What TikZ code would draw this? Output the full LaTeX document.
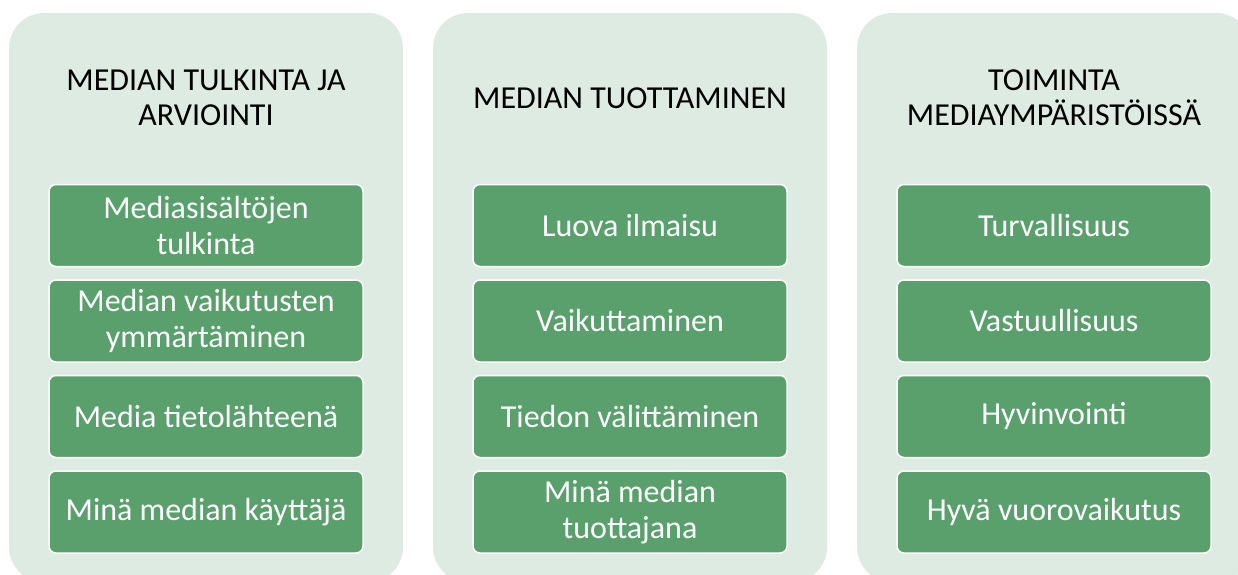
\documentclass[tikz,border=0pt]{standalone}
\usepackage{fontspec}
\setmainfont{Carlito}
\usetikzlibrary{positioning}
\definecolor{panelgreen}{RGB}{221,235,226}
\definecolor{itemgreen}{RGB}{89,160,108}
\def \gap {12pt}

\begin{document}
\begin{tikzpicture}[x=1pt,y=1pt,node distance=\gap,
    panel/.style={fill=panelgreen,rounded corners=35pt,minimum width=394pt,minimum height=569pt,inner sep=0pt},
    head/.style={align=center,font=\fontsize{32}{35}\selectfont},
    item/.style={fill=itemgreen,draw=white,line width=1.5pt,rounded corners=7pt,minimum width=314pt,minimum height=82pt,inner sep=0pt,align=center,text=white,font=\fontsize{32}{36}\selectfont}]
    \clip (0,0) rectangle (1238,574);
    % panels
    \node[panel] (P1) at (206,276.5) {};
    \node[panel] (P2) at (630,276.5) {};
    \node[panel] (P3) at (1054,276.5) {};
    % headings
    \node[head] (H1) at (206,476) {MEDIAN TULKINTA JA\\ARVIOINTI};
    \node[head] (H2) at (630,476) {MEDIAN TUOTTAMINEN};
    \node[head] (H3) at (1054,476) {TOIMINTA\\MEDIAYMPÄRISTÖISSÄ};
    % first column
    \node[item] (A1) at (206,348.5) {Mediasisältöjen\\tulkinta};
    \node[item,below=of A1] (A2) {Median vaikutusten\\ymmärtäminen};
    \node[item,below=of A2] (A3) {Media tietolähteenä};
    \node[item,below=of A3] (A4) {Minä median käyttäjä};
    % second column
    \node[item] (B1) at (630,348.5) {Luova ilmaisu};
    \node[item,below=of B1] (B2) {Vaikuttaminen};
    \node[item,below=of B2] (B3) {Tiedon välittäminen};
    \node[item,below=of B3] (B4) {Minä median\\tuottajana};
    % third column
    \node[item] (C1) at (1054,348.5) {Turvallisuus};
    \node[item,below=of C1] (C2) {Vastuullisuus};
    \node[item,below=of C2] (C3) {Hyvinvointi};
    \node[item,below=of C3] (C4) {Hyvä vuorovaikutus};
\end{tikzpicture}
\end{document}
